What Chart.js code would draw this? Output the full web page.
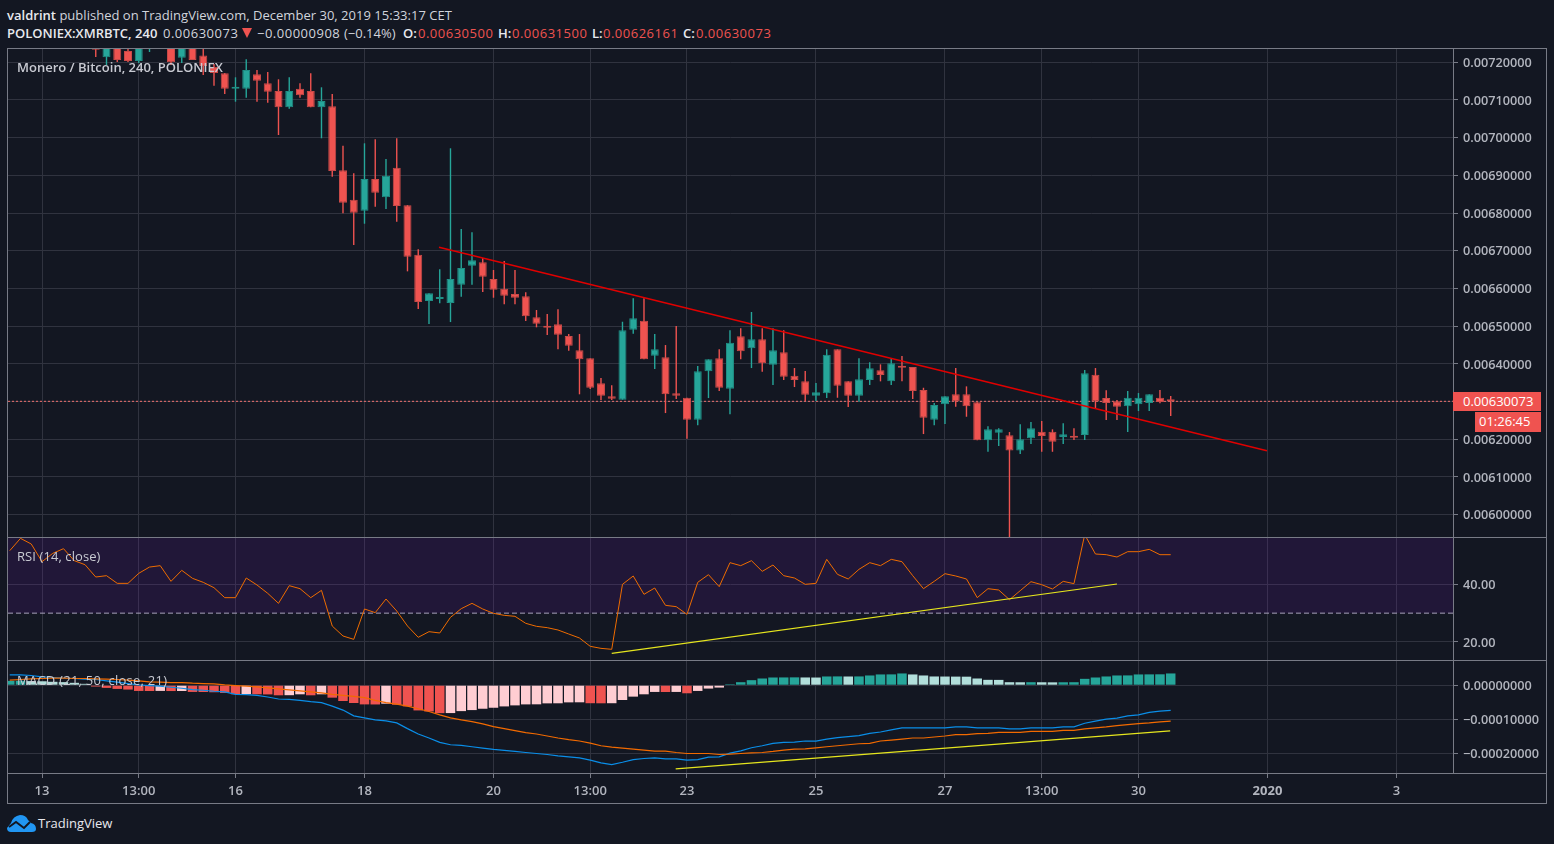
<!DOCTYPE html>
<html>
<head>
<meta charset="utf-8">
<script src="https://cdn.jsdelivr.net/npm/chart.js@4"></script>
<style>
html, body { margin: 0; padding: 0; background: #131722; width: 1554px; height: 844px; overflow: hidden; }
body { position: relative; font-family: "Open Sans", sans-serif; font-size: 13px; color: #d1d4dc; }
canvas { position: absolute; left: 0; }
.txt { position: absolute; white-space: nowrap; line-height: 16px; }
.num { letter-spacing: 0.5px; }
.line { position: absolute; background: #787b86; }
.tag { position: absolute; background: #ef5350; color: #fff; font-size: 13px; line-height: 19px; box-sizing: border-box; }
b { font-weight: 600; color: #e8e9ee; }
.red { color: #ef5350; }
#tri { position: absolute; left: 242px; top: 28px; width: 0; height: 0; border-left: 5px solid transparent; border-right: 5px solid transparent; border-top: 10px solid #ef5350; }
</style>
</head>
<body>
<canvas id="priceChart" style="top:48px"></canvas>
<canvas id="rsiChart" style="top:538px"></canvas>
<canvas id="macdChart" style="top:661px"></canvas>

<div class="line" style="left:7px;top:48px;width:1px;height:755px"></div>
<div class="line" style="left:1546px;top:48px;width:1px;height:755px"></div>
<div class="line" style="left:1453px;top:48px;width:1px;height:725px"></div>
<div class="line" style="left:7px;top:48px;width:1540px;height:1px"></div>
<div class="line" style="left:7px;top:537px;width:1540px;height:1px"></div>
<div class="line" style="left:7px;top:660px;width:1540px;height:1px"></div>
<div class="line" style="left:7px;top:773px;width:1540px;height:1px"></div>
<div class="line" style="left:7px;top:803px;width:1540px;height:1px"></div>

<div class="txt" style="left:7px;top:7px;letter-spacing:0.02px"><b>valdrint</b> published on TradingView.com, December 30, 2019 15:33:17 CET</div>
<div class="txt" style="left:7px;top:25px"><b>POLONIEX:XMRBTC, 240</b></div>
<div class="txt num" style="left:163px;top:25px">0.00630073</div>
<div id="tri"></div>
<div class="txt num" style="left:257px;top:25px">−0.00000908</div>
<div class="txt" style="left:344px;top:25px">(−0.14%)</div>
<div class="txt" style="left:403px;top:25px"><b>O:</b></div>
<div class="txt num red" style="left:418px;top:25px">0.00630500</div>
<div class="txt" style="left:498px;top:25px"><b>H:</b></div>
<div class="txt num red" style="left:512px;top:25px">0.00631500</div>
<div class="txt" style="left:592px;top:25px"><b>L:</b></div>
<div class="txt num red" style="left:603px;top:25px">0.00626161</div>
<div class="txt" style="left:683px;top:25px"><b>C:</b></div>
<div class="txt num red" style="left:696px;top:25px">0.00630073</div>
<div class="txt" style="left:17px;top:59px;color:#c8cad2;font-weight:600">Monero / Bitcoin, 240, POLONIEX</div>
<div class="txt" style="left:17px;top:548px;color:#c8cad2;letter-spacing:0.08px">RSI (14, close)</div>
<div class="txt" style="left:17px;top:672px;color:#c8cad2;letter-spacing:0.25px">MACD (21, 50, close, 21)</div>

<div class="tag" style="left:1453px;top:392px;width:88px;height:19px;padding-left:10px">0.00630073</div>
<div class="tag" style="left:1475px;top:412px;width:66px;height:20px;padding-left:4px">01:26:45</div>

<svg style="position:absolute;left:7px;top:814px" width="30" height="19" viewBox="0 0 30 19">
  <path fill="#2196f3" d="M0 14 L4 9 Q6 2 13 1 Q19 1 21 6 L24 9 Q29 10 29 15 Q29 18 25 18 L4 18 Q0 18 0 14 Z"/>
  <path fill="none" stroke="#131722" stroke-width="2" d="M2 13 L9 8 L17 14 L23 8"/>
</svg>
<div class="txt" style="left:38px;top:815px;color:#e8e8ee">TradingView</div>

<script>
// x positions are counted in 4h candles, 0 is the candle under the "13" label
const tickPositions = [0, 9, 18, 30, 42, 51, 60, 72, 84, 93, 102, 114, 126];
const tickLabels = ['13', '13:00', '16', '18', '20', '13:00', '23', '25', '27', '13:00', '30', '2020', '3'];
const priceTicks = [0.0072, 0.0071, 0.007, 0.0069, 0.0068, 0.0067, 0.0066, 0.0065, 0.0064, 0.0063, 0.0062, 0.0061, 0.006];
const rsiTicks = [40, 20];
const macdTicks = [0, -0.0001, -0.0002];

const candleStart = 5;
const opens = [
  0.0072592, 0.0072133, 0.0072433, 0.00723, 0.0072035, 0.0072406, 0.0072857, 0.0072592, 0.0072122, 0.0072486,
  0.007218, 0.0071883, 0.0071708, 0.00713, 0.00713, 0.0071682, 0.0071443, 0.0071239, 0.0070806, 0.00713,
  0.0071239, 0.0070806, 0.0070833, 0.0069135, 0.0068355, 0.0068063, 0.0068904, 0.0068419, 0.0069204, 0.0068206,
  0.0066896, 0.0065667, 0.0065721, 0.0065615, 0.00661, 0.0066604, 0.0066694, 0.0066251, 0.0065994, 0.0065853,
  0.0065792, 0.0065235, 0.0065004, 0.0065049, 0.0064739, 0.006436, 0.0064147, 0.0063484, 0.0063139, 0.0063049,
  0.0064906, 0.0065145, 0.0064216, 0.0064174, 0.0063219, 0.0063102, 0.0062518, 0.0063803, 0.0064147, 0.0063341,
  0.0064731, 0.0064413, 0.0064651, 0.0063978, 0.0064307, 0.0063686, 0.0063537, 0.0063155, 0.0063219, 0.0064386,
  0.0063537, 0.0063155, 0.0063572, 0.0063829, 0.0063537, 0.0063951, 0.0063917, 0.0063306, 0.0062518, 0.0062927,
  0.0063192, 0.0063192, 0.006298, 0.0061972, 0.0062173, 0.0062105, 0.0061706, 0.0062025, 0.00622, 0.00622,
  0.0062059, 0.0062086, 0.0062113, 0.0063712, 0.0063094, 0.0063006, 0.0062874, 0.0062927, 0.0062961, 0.0063102,
  0.006305
];
const highs = [
  0.0072724, 0.0072645, 0.0072592, 0.0072433, 0.0072698, 0.0072592, 0.007299, 0.0072698, 0.0072592, 0.0072592,
  0.0072433, 0.0071955, 0.0071716, 0.0071602, 0.007208, 0.0071796, 0.0071743, 0.0071549, 0.0071602, 0.0071443,
  0.0071708, 0.0071337, 0.0071159, 0.0069788, 0.0069055, 0.0069851, 0.0069957, 0.0069435, 0.0069984, 0.0068214,
  0.0067039, 0.0065872, 0.0066508, 0.0069719, 0.0067578, 0.006749, 0.0066808, 0.006649, 0.0066729, 0.006649,
  0.0065898, 0.0065429, 0.0065323, 0.0065447, 0.0064792, 0.0064792, 0.0064147, 0.0063625, 0.0063431, 0.0065118,
  0.0065739, 0.0065739, 0.0064792, 0.00645, 0.0065004, 0.0063102, 0.0063943, 0.0064121, 0.0064386, 0.006489,
  0.0064943, 0.0065376, 0.0064943, 0.0064943, 0.006489, 0.006389, 0.006381, 0.0063492, 0.0064386, 0.0064386,
  0.0063537, 0.0064147, 0.0064041, 0.0063988, 0.0064147, 0.0064208, 0.0063917, 0.0063367, 0.0062961, 0.0063139,
  0.006389, 0.0063404, 0.006298, 0.0062343, 0.006229, 0.0062192, 0.0062396, 0.0062457, 0.0062484, 0.0062264,
  0.0062423, 0.006229, 0.0063837, 0.006389, 0.0063298, 0.0063041, 0.006328, 0.0063227, 0.0063192, 0.0063306,
  0.006315
];
const lows = [
  0.0072141, 0.0071929, 0.0072008, 0.0072008, 0.0071982, 0.0072273, 0.0072486, 0.0071929, 0.0071982, 0.0072061,
  0.0071663, 0.0071379, 0.007116, 0.0070955, 0.0071061, 0.0070955, 0.0070928, 0.0070071, 0.0070769, 0.0071061,
  0.0070806, 0.0069984, 0.0068965, 0.0067994, 0.0067153, 0.0067718, 0.0068169, 0.0068108, 0.0067771, 0.0066455,
  0.0065455, 0.0065057, 0.0065607, 0.006511, 0.0065782, 0.00661, 0.0065906, 0.0065755, 0.006558, 0.006558,
  0.0065137, 0.006497, 0.0064765, 0.0064386, 0.0064349, 0.0063193, 0.0063333, 0.0063041, 0.0063041, 0.0063049,
  0.00648, 0.0064121, 0.0063863, 0.0062696, 0.0063068, 0.0062014, 0.006237, 0.0063094, 0.006328, 0.0062662,
  0.0064121, 0.006389, 0.0063792, 0.0063439, 0.0063572, 0.0063386, 0.0063014, 0.0063014, 0.0063094, 0.0063102,
  0.0062855, 0.0062996, 0.0063439, 0.0063537, 0.0063439, 0.0063537, 0.0063068, 0.0062139, 0.006237, 0.0062404,
  0.0062864, 0.0062598, 0.0061972, 0.0061669, 0.0061821, 0.0059, 0.0061608, 0.0061874, 0.0061669, 0.0061669,
  0.0061874, 0.0061979, 0.0061979, 0.0062821, 0.0062511, 0.0062511, 0.0062192, 0.0062749, 0.0062749, 0.0062954,
  0.0062616
];
const closes = [
  0.0072334, 0.0072539, 0.0072061, 0.0072035, 0.0072592, 0.0072486, 0.0072592, 0.0072, 0.0072486, 0.0072061,
  0.0071902, 0.0071716, 0.00713, 0.0071337, 0.0071796, 0.0071512, 0.007122, 0.0070806, 0.0071239, 0.0071125,
  0.0070806, 0.0070973, 0.0069116, 0.0068275, 0.006801, 0.0068904, 0.0068541, 0.0068992, 0.0068188, 0.0066843,
  0.0065641, 0.0065872, 0.0065774, 0.0066251, 0.0066543, 0.0066747, 0.0066312, 0.0065967, 0.0065808, 0.0065755,
  0.0065262, 0.0065065, 0.0064959, 0.0064773, 0.0064482, 0.0064121, 0.0063367, 0.0063155, 0.0063076, 0.006489,
  0.0065208, 0.0064121, 0.0064386, 0.0063192, 0.0063155, 0.0062518, 0.0063803, 0.0064121, 0.0063367, 0.0064561,
  0.0064333, 0.0064651, 0.0064015, 0.006436, 0.0063659, 0.0063572, 0.0063182, 0.0063245, 0.0064243, 0.0063420,
  0.0063155, 0.006359, 0.0063882, 0.0063704, 0.0064015, 0.0063898, 0.006328, 0.0062572, 0.0062908, 0.0063139,
  0.0063006, 0.0062874, 0.0061972, 0.0062264, 0.0062264, 0.0061706, 0.0061999, 0.006229, 0.0062086, 0.0061935,
  0.0062131, 0.0062041, 0.0063749, 0.0063006, 0.0062961, 0.0062864, 0.0063102, 0.0063102, 0.0063192, 0.0062988,
  0.0063007
];
const lastClose = 0.00630073;
const downTrendX = [36.93, 113.95];
const downTrendY = [0.0067092, 0.0061696];

const rsiStart = -3;
const rsiValues = [
  51.66, 55.93, 53.97, 47.84, 50.73, 52.35, 48.19, 46.8, 42.53, 42.99,
  40.33, 40.33, 43.8, 45.98, 46.46, 41.03, 44.84, 42.07, 40.68, 38.83,
  35.37, 35.37, 42.18, 39.76, 36.87, 33.4, 39.53, 38.49, 35.37, 37.91,
  25.54, 22.08, 20.92, 31.44, 30.17, 34.9, 30.74, 25.54, 21.62, 23.58,
  23.12, 28.55, 31.55, 33.4, 31.44, 29.93, 29.24, 28.9, 26.47, 25.43,
  24.97, 24.16, 22.77, 21.39, 18.5, 17.8, 17.46, 39.99, 42.88, 36.52,
  38.72, 32.71, 32.25, 29.59, 40.68, 43.34, 39.18, 47.5, 46.46, 48.19,
  44.49, 46.69, 42.99, 42.18, 39.99, 40.33, 48.65, 43.45, 41.84, 45.19,
  47.5, 46.46, 48.65, 47.84, 42.99, 38.48, 41.03, 43.68, 42.88, 41.84,
  35.37, 38.48, 38.02, 34.67, 37.79, 40.91, 39.87, 38.37, 41.03, 40.22,
  57.2, 50.5, 50.27, 49.46, 51.31, 51.31, 52.12, 50.27, 50.27
];
const rsiLevel = 30;
const rsiTrendX = [53, 100];
const rsiTrendY = [16.07, 40.1];

const macdStart = -3;
const macdLine = [
  0.0000304, 0.0000304, 0.0000284, 0.0000245, 0.0000225, 0.0000206, 0.0000196, 0.0000176, 0.0000167, 0.0000127,
  0.0000088, 0.0000049, 0.000001, -0.000001, -0.0000029, -0.0000059, -0.0000088, -0.0000127, -0.0000147, -0.0000176,
  -0.0000196, -0.0000265, -0.0000275, -0.0000294, -0.0000343, -0.0000402, -0.0000412, -0.0000441, -0.000048, -0.000051,
  -0.0000608, -0.0000725, -0.0000892, -0.0000951, -0.000101, -0.0001039, -0.0001098, -0.0001265, -0.0001422, -0.0001539,
  -0.0001667, -0.0001735, -0.0001755, -0.0001794, -0.0001833, -0.0001873, -0.0001902, -0.0001931, -0.0001961, -0.000199,
  -0.000202, -0.0002059, -0.0002088, -0.0002118, -0.0002186, -0.0002265, -0.0002314, -0.0002245, -0.0002167, -0.0002137,
  -0.0002118, -0.0002147, -0.0002147, -0.0002186, -0.0002167, -0.0002098, -0.0002088, -0.000198, -0.0001912, -0.0001824,
  -0.0001765, -0.0001696, -0.0001667, -0.0001657, -0.0001627, -0.0001627, -0.0001569, -0.0001529, -0.00015, -0.0001471,
  -0.0001402, -0.0001363, -0.0001304, -0.0001245, -0.0001245, -0.0001245, -0.0001245, -0.0001245, -0.0001216, -0.0001216,
  -0.0001245, -0.0001245, -0.0001245, -0.0001275, -0.0001275, -0.0001245, -0.0001245, -0.0001245, -0.0001216, -0.0001216,
  -0.0001108, -0.0001049, -0.000099, -0.0000961, -0.0000892, -0.0000863, -0.0000794, -0.0000755, -0.0000735
];
const macdSignal = [
  0.0000147, 0.0000167, 0.0000186, 0.0000196, 0.0000206, 0.0000206, 0.0000196, 0.0000196, 0.0000186, 0.0000176,
  0.0000167, 0.0000147, 0.0000127, 0.0000098, 0.0000088, 0.0000078, 0.0000078, 0.0000059, 0.0000049, 0.0000039,
  0.000001, -0.000001, -0.0000029, -0.0000049, -0.0000078, -0.0000108, -0.0000137, -0.0000167, -0.0000196, -0.0000225,
  -0.0000265, -0.0000294, -0.0000324, -0.0000363, -0.0000441, -0.000051, -0.0000549, -0.0000608, -0.0000686, -0.0000765,
  -0.0000863, -0.0000951, -0.000101, -0.0001059, -0.0001127, -0.0001206, -0.0001265, -0.0001324, -0.0001382, -0.0001422,
  -0.000148, -0.0001539, -0.0001588, -0.0001627, -0.0001686, -0.0001765, -0.0001804, -0.0001833, -0.0001863, -0.0001892,
  -0.0001922, -0.0001922, -0.0001961, -0.000199, -0.000199, -0.000199, -0.000202, -0.000201, -0.000199, -0.0001971,
  -0.0001961, -0.0001931, -0.0001892, -0.0001863, -0.0001853, -0.0001824, -0.0001794, -0.0001765, -0.0001735, -0.0001706,
  -0.0001696, -0.0001627, -0.0001598, -0.0001569, -0.0001539, -0.0001539, -0.000151, -0.000148, -0.0001441, -0.0001441,
  -0.0001412, -0.0001402, -0.0001373, -0.0001373, -0.0001373, -0.0001343, -0.0001343, -0.0001343, -0.0001314, -0.0001314,
  -0.0001275, -0.0001245, -0.0001216, -0.0001176, -0.0001147, -0.0001118, -0.0001098, -0.0001069, -0.0001049
];
const macdHist = [
  0.0000127, 0.000013, 0.000012, 0.0000115, 0.00001, 0.000009, 0.000007, 0.000004, -0.0000039, -0.0000078,
  -0.0000108, -0.0000127, -0.0000167, -0.0000169, -0.0000166, -0.000017, -0.0000168, -0.0000196, -0.0000198, -0.0000206,
  -0.0000225, -0.0000265, -0.0000262, -0.0000265, -0.0000268, -0.0000294, -0.0000291, -0.0000265, -0.0000294, -0.0000265,
  -0.0000363, -0.0000461, -0.0000519, -0.0000559, -0.0000561, -0.0000539, -0.0000569, -0.0000618, -0.0000735, -0.0000765,
  -0.0000814, -0.0000812, -0.0000755, -0.0000725, -0.0000686, -0.0000657, -0.0000618, -0.0000588, -0.0000559, -0.0000557,
  -0.0000529, -0.0000527, -0.00005, -0.0000498, -0.0000525, -0.0000527, -0.0000525, -0.0000431, -0.0000333, -0.0000265,
  -0.0000196, -0.0000198, -0.0000196, -0.0000235, -0.0000167, -0.0000098, -0.0000069, 0.0000029, 0.0000088, 0.0000147,
  0.0000196, 0.0000225, 0.0000227, 0.0000229, 0.0000226, 0.0000224, 0.0000255, 0.0000257, 0.0000254, 0.0000256,
  0.0000284, 0.0000314, 0.0000316, 0.0000343, 0.0000314, 0.0000284, 0.0000255, 0.0000253, 0.0000251, 0.0000249,
  0.0000196, 0.0000157, 0.0000155, 0.0000088, 0.0000086, 0.0000088, 0.0000086, 0.0000084, 0.0000086, 0.0000088,
  0.0000186, 0.0000225, 0.0000255, 0.0000284, 0.0000286, 0.0000314, 0.0000316, 0.0000318, 0.0000343
];
const macdTrendX = [58.95, 104.95];
const macdTrendY = [-0.0002441, -0.0001333];

const UP = '#26a69a', DOWN = '#ef5350', UP_EDGE = '#1f8f85', DOWN_EDGE = '#c94a48';
const GRID = '#30333f', TICK_MARK = '#787b86', LABEL = '#b2b5be';
const X_MIN = -3.163, X_MAX = 131.26;

Chart.defaults.font.family = '"Open Sans", sans-serif';
Chart.defaults.font.size = 13;
Chart.defaults.color = LABEL;
Chart.defaults.animation = false;

const fmtPrice = v => (v < 0 ? '−' : '') + Math.abs(v).toFixed(8);

function xAxis(showLabels) {
  return {
    type: 'linear', min: X_MIN, max: X_MAX, offset: false,
    afterBuildTicks: s => { s.ticks = tickPositions.map(v => ({ value: v })); },
    afterFit: s => {
      s.height = showLabels ? 30 : 0;
      s.paddingLeft = 0; s.paddingRight = 0;
    },
    grid: { color: GRID, offset: false, drawTicks: showLabels, tickLength: 4, tickColor: TICK_MARK },
    border: { display: false },
    ticks: {
      display: showLabels, autoSkip: false, maxRotation: 0, padding: 5,
      font: c => ({ size: 13, weight: tickLabels[c.index] === '2020' ? '700' : '600' }),
      callback: (v, i) => tickLabels[i]
    }
  };
}

function yAxis(min, max, values, fmt) {
  return {
    type: 'linear', position: 'right', min: min, max: max,
    afterBuildTicks: s => { s.ticks = values.map(v => ({ value: v })); },
    afterFit: s => { s.width = 101; s.paddingTop = 0; s.paddingBottom = 0; },
    grid: { color: GRID, tickLength: 5, tickColor: TICK_MARK },
    border: { display: false },
    ticks: { padding: 5, labelOffset: 1, font: { size: 12.7, weight: '600' }, callback: fmt }
  };
}

function lineSet(xs, ys, color, width, extra) {
  return Object.assign({
    type: 'line', data: xs.map((x, i) => ({ x: x, y: ys[i] })),
    borderColor: color, borderWidth: width, pointRadius: 0, tension: 0, fill: false
  }, extra);
}

function makeChart(id, height, datasets, x, y) {
  const cv = document.getElementById(id);
  cv.width = 1554; cv.height = height;
  return new Chart(cv, {
    type: 'bar',
    data: { datasets: datasets },
    options: {
      responsive: false, devicePixelRatio: 1, parsing: true,
      layout: { padding: { left: 8, right: 0, top: 0, bottom: 0 } },
      plugins: { legend: { display: false }, tooltip: { enabled: false } },
      datasets: { bar: { grouped: false } },
      scales: { x: x, y: y }
    }
  });
}

const candleX = opens.map((_, i) => i + candleStart);
const bodyColor = opens.map((o, i) => closes[i] >= o ? UP : DOWN);
const edgeColor = opens.map((o, i) => closes[i] >= o ? UP_EDGE : DOWN_EDGE);

makeChart('priceChart', 489, [
  lineSet([X_MIN, X_MAX], [lastClose, lastClose], '#f0706e', 1, { borderDash: [2, 2], order: 4 }),
  { data: candleX.map((x, i) => ({ x: x, y: [lows[i], highs[i]] })), backgroundColor: bodyColor,
    barThickness: 1.4, inflateAmount: 0, order: 3 },
  { data: candleX.map((x, i) => ({ x: x, y: [opens[i], closes[i]] })), backgroundColor: bodyColor,
    borderColor: edgeColor, borderWidth: 1, borderSkipped: false, barThickness: 8, minBarLength: 2, inflateAmount: 0, order: 2 },
  lineSet(downTrendX, downTrendY, '#e00000', 1.5, { order: 1 })
], xAxis(false), yAxis(0.00594083, 0.00723793, priceTicks, v => v.toFixed(8)));

const rsiX = rsiValues.map((_, i) => i + rsiStart);
makeChart('rsiChart', 122, [
  lineSet([X_MIN, X_MAX], [rsiLevel, rsiLevel], '#a9a4bb', 1,
    { borderDash: [5, 3], fill: 'end', backgroundColor: 'rgba(120,30,190,0.14)', order: 3 }),
  lineSet(rsiX, rsiValues, '#ef6c00', 1, { order: 2 }),
  lineSet(rsiTrendX, rsiTrendY, '#e6e61e', 1.2, { order: 1 })
], xAxis(false), yAxis(13.76, 56.05, rsiTicks, v => v.toFixed(2)));

const macdX = macdHist.map((_, i) => i + macdStart);
const histColor = macdHist.map((v, i) => {
  const prev = i ? macdHist[i - 1] : v;
  if (v >= 0) return v >= prev ? UP : '#b2dfdb';
  return v < prev ? DOWN : '#ffcdd2';
});
makeChart('macdChart', 143, [
  { data: macdX.map((x, i) => ({ x: x, y: macdHist[i] })), backgroundColor: histColor,
    barThickness: 9.5, inflateAmount: 0, order: 4 },
  lineSet(macdX, macdLine, '#0a8ee8', 1.2, { order: 3 }),
  lineSet(macdX, macdSignal, '#f26a00', 1.2, { order: 2 }),
  lineSet(macdTrendX, macdTrendY, '#e6e61e', 1.2, { order: 1 })
], xAxis(true), yAxis(-0.00025882, 0.00007059, macdTicks, fmtPrice));
</script>
</body>
</html>
